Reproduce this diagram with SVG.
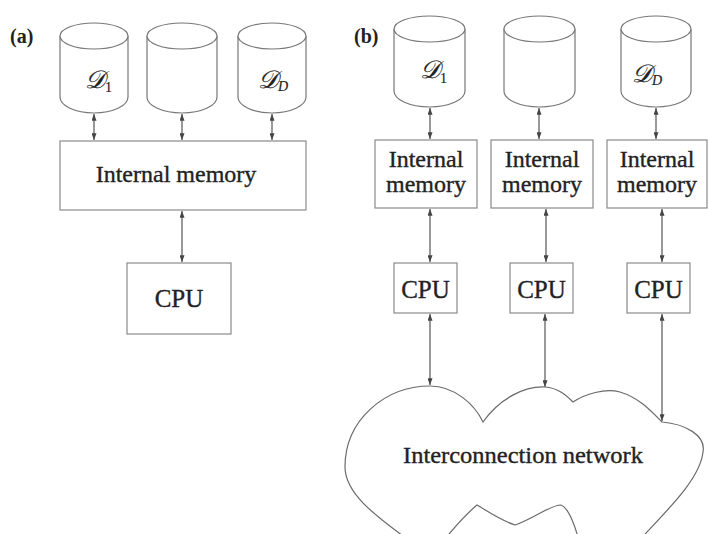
<svg xmlns="http://www.w3.org/2000/svg" width="708" height="534" viewBox="0 0 708 534">
<style>
.ln{fill:none;stroke:#6a6a6a;stroke-width:1.2}
.bx{fill:#fff;stroke:#8a8a8a;stroke-width:1.2}
.cy{fill:#fff;stroke:#777;stroke-width:1.2}
.ar{fill:none;stroke:#555;stroke-width:1.2;marker-start:url(#ah);marker-end:url(#ah)}
text{font-family:"Liberation Serif","Times New Roman",serif;fill:#222;stroke:#222;stroke-width:0.35}
.t24{font-size:24px}
.t25{font-size:25px}
.lab{font-size:20px;font-weight:bold;stroke:none}
.dd{font-size:25px;font-style:italic;stroke-width:0.2}
.sub{font-size:14px}
</style>
<defs>
<marker id="ah" viewBox="0 0 8 6" refX="8" refY="3" markerWidth="7" markerHeight="5" markerUnits="userSpaceOnUse" orient="auto-start-reverse">
<path d="M0,0 L8,3 L0,6 Z" fill="#444"/>
</marker>
</defs>
<rect width="708" height="534" fill="#fff"/>

<text class="lab" x="10" y="43">(a)</text>
<text class="lab" x="354" y="43">(b)</text>

<g id="connectors">
<line class="ar" x1="94" y1="114" x2="94" y2="140"/>
<line class="ar" x1="182" y1="114" x2="182" y2="140"/>
<line class="ar" x1="272" y1="114" x2="272" y2="140"/>
<line class="ar" x1="182" y1="211" x2="182" y2="262"/>
<line class="ar" x1="430" y1="108" x2="430" y2="139"/>
<line class="ar" x1="539" y1="108" x2="539" y2="139"/>
<line class="ar" x1="656" y1="108" x2="656" y2="139"/>
<line class="ar" x1="430" y1="209" x2="430" y2="262"/>
<line class="ar" x1="546" y1="209" x2="546" y2="262"/>
<line class="ar" x1="662" y1="209" x2="662" y2="262"/>
<line class="ar" x1="430" y1="314" x2="430" y2="385"/>
<line class="ar" x1="545" y1="314" x2="545" y2="387"/>
<line class="ar" x1="662" y1="314" x2="662" y2="421"/>
</g>

<g id="a-disk1">
<path class="cy" d="M60,36 L60,97 A34,16 0 0 0 128,97 L128,36"/>
<ellipse class="cy" cx="94" cy="36" rx="34" ry="13"/>
<text class="dd" x="85" y="88">𝒟<tspan class="sub" dy="4" font-style="normal">1</tspan></text>
</g>
<g id="a-disk2">
<path class="cy" d="M147,36 L147,97 A35,16 0 0 0 217,97 L217,36"/>
<ellipse class="cy" cx="182" cy="36" rx="35" ry="13"/>
</g>
<g id="a-diskD">
<path class="cy" d="M238,36 L238,97 A34,16 0 0 0 306,97 L306,36"/>
<ellipse class="cy" cx="272" cy="36" rx="34" ry="13"/>
<text class="dd" x="258" y="88">𝒟<tspan class="sub" dy="3">D</tspan></text>
</g>
<g id="a-memory">
<rect class="bx" x="60" y="141" width="246" height="69"/>
<text class="t24" x="176" y="182" text-anchor="middle">Internal memory</text>
</g>
<g id="a-cpu">
<rect class="bx" x="127" y="263" width="104" height="71"/>
<text class="t25" x="179" y="307" text-anchor="middle">CPU</text>
</g>

<g id="b-disk1">
<path class="cy" d="M394,29 L394,91 A35.5,16 0 0 0 465,91 L465,29"/>
<ellipse class="cy" cx="429.5" cy="29" rx="35.5" ry="13"/>
<text class="dd" x="420" y="78">𝒟<tspan class="sub" dy="5" font-style="normal">1</tspan></text>
</g>
<g id="b-disk2">
<path class="cy" d="M504,29 L504,91 A35.5,16 0 0 0 575,91 L575,29"/>
<ellipse class="cy" cx="539.5" cy="29" rx="35.5" ry="13"/>
</g>
<g id="b-diskD">
<path class="cy" d="M621,29 L621,91 A35,16 0 0 0 691,91 L691,29"/>
<ellipse class="cy" cx="656" cy="29" rx="35" ry="13"/>
<text class="dd" x="632" y="82">𝒟<tspan class="sub" dy="3">D</tspan></text>
</g>

<g id="b-memory1">
<rect class="bx" x="375" y="140" width="102" height="68"/>
<text class="t24" x="426" y="167" text-anchor="middle">Internal</text>
<text class="t24" x="426" y="192" text-anchor="middle">memory</text>
</g>
<g id="b-memory2">
<rect class="bx" x="491" y="140" width="102" height="68"/>
<text class="t24" x="542" y="167" text-anchor="middle">Internal</text>
<text class="t24" x="542" y="192" text-anchor="middle">memory</text>
</g>
<g id="b-memory3">
<rect class="bx" x="607" y="140" width="100" height="68"/>
<text class="t24" x="657" y="167" text-anchor="middle">Internal</text>
<text class="t24" x="657" y="192" text-anchor="middle">memory</text>
</g>

<g id="b-cpu1">
<rect class="bx" x="394" y="263" width="63" height="50"/>
<text class="t25" x="425.5" y="298" text-anchor="middle">CPU</text>
</g>
<g id="b-cpu2">
<rect class="bx" x="510" y="263" width="63" height="50"/>
<text class="t25" x="541.5" y="298" text-anchor="middle">CPU</text>
</g>
<g id="b-cpu3">
<rect class="bx" x="627" y="263" width="63" height="50"/>
<text class="t25" x="658.5" y="298" text-anchor="middle">CPU</text>
</g>

<g id="network">
<path class="ln" d="M483,422 C500,398 525,386 545,387 C558,388 566,395 573,402 C585,394 605,388 620,392 C640,398 652,412 662,422 C685,424 706,435 703,452 C700,480 665,512 635,545 L580,545 C576,528 569,508 561,505 C550,505 535,518 515,525 C500,520 486,510 477,505 C465,515 452,530 440,545 L415,545 C385,522 345,497 345,467 C345,420 385,386 430,386 C455,386 475,405 483,422 Z" fill="#fff"/>
<text x="523" y="463" text-anchor="middle" textLength="240" lengthAdjust="spacingAndGlyphs" style="font-size:24px">Interconnection network</text>
</g>
</svg>
